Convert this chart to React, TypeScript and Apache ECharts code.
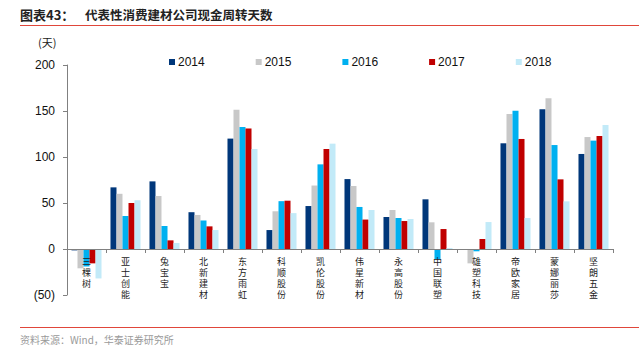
import React, { useEffect, useRef } from "react";
import * as echarts from "echarts";

const categories = ["三棵树", "亚士创能", "兔宝宝", "北新建材", "东方雨虹", "科顺股份", "凯伦股份", "伟星新材", "永高股份", "中国联塑", "雄塑科技", "帝欧家居", "蒙娜丽莎", "坚朗五金"];
const years = ["2014", "2015", "2016", "2017", "2018"];
const v2014 = [-1.5, 67, 73.5, 40, 120, 20.6, 46.7, 76, 34.8, 54, 0, 114.9, 151.8, 103.3];
const v2015 = [-21, 60, 57.6, 37, 151.4, 41, 69, 68.5, 42.4, 29, -15.6, 146.7, 163.8, 121.7];
const v2016 = [-19, 36, 25, 31, 132.6, 52, 92, 45.7, 33.7, -11, -2.5, 150.4, 113, 117.8];
const v2017 = [-15.6, 50, 9.4, 24.6, 131, 52.5, 108.7, 32, 30.4, 21.7, 10.9, 119.6, 75.7, 122.8];
const v2018 = [-32, 53, 6.5, 20.6, 108.7, 39, 114.5, 42.4, 32.6, 1, 29.3, 33.7, 51.8, 134.8];
const seriesValues = [v2014, v2015, v2016, v2017, v2018];
const colors = ["#00377A", "#C8C8C8", "#00B0F0", "#C00000", "#C2EAF8"];
const yTicks = { min: -50, max: 200, interval: 50 };

export default function App() {
  const ref = useRef<HTMLDivElement>(null);
  useEffect(() => {
    document.body.style.margin = "0";
    const chart = echarts.init(ref.current!, undefined, { renderer: "svg" });
    const gridTop = 65;
    const gridBottom = 57;
    const plotH = 352 - gridTop - gridBottom;
    // pixel distance from grid bottom (min) up to the zero line
    const zeroOffset = (plotH * (0 - yTicks.min)) / (yTicks.max - yTicks.min);
    chart.setOption({
      animation: false,
      backgroundColor: "#fff",
      textStyle: { fontFamily: "Liberation Sans, Arial, sans-serif" },
      graphic: [
        { type: "text", left: 20, top: 8, style: { text: "图表43：", font: "bold 13px 'Noto Sans CJK SC'", fill: "#222" } },
        { type: "text", left: 85, top: 8, style: { text: "代表性消费建材公司现金周转天数", font: "bold 12.5px 'Noto Sans CJK SC'", fill: "#222" } },
        { type: "rect", shape: { x: 20, y: 25, width: 619, height: 1 }, style: { fill: "#E0463A" } },
        { type: "text", left: 38, top: 36, style: { text: "(天)", font: "11px 'Noto Sans CJK SC'", fill: "#222" } },
        { type: "rect", shape: { x: 20, y: 327, width: 619, height: 1 }, style: { fill: "#E0463A" } },
        { type: "text", left: 20, top: 334, style: { text: "资料来源：Wind，华泰证券研究所", font: "10px 'Noto Sans CJK SC'", fill: "#9a9a9a" } },
      ],
      legend: {
        top: 51,
        left: 164,
        itemWidth: 6,
        itemHeight: 6,
        itemGap: 51,
        icon: "rect",
        textStyle: { fontSize: 12, color: "#111", padding: [0, 0, 0, -2] },
        data: years,
      },
      grid: { left: 67, right: 26, top: gridTop, bottom: gridBottom },
      xAxis: {
        type: "category",
        data: categories,
        offset: -zeroOffset,
        z: 10,
        axisLine: { onZero: false, lineStyle: { color: "#808080" } },
        axisTick: { show: true, length: 4, lineStyle: { color: "#808080" } },
        axisLabel: {
          interval: 0,
          margin: 7,
          fontSize: 9,
          lineHeight: 11,
          color: "#222",
          fontFamily: "Noto Sans CJK SC",
          formatter: (v: string) => v.split("").join("\n"),
        },
      },
      yAxis: {
        type: "value",
        min: yTicks.min,
        max: yTicks.max,
        interval: yTicks.interval,
        axisLine: { show: true, lineStyle: { color: "#808080" } },
        axisTick: { show: true, length: 4, lineStyle: { color: "#808080" } },
        splitLine: { show: false },
        axisLabel: {
          margin: 12,
          fontSize: 12,
          color: "#111",
          formatter: (v: number) => (v < 0 ? `(${Math.abs(v)})` : `${v}`),
        },
      },
      series: years.map((y, i) => ({
        name: y,
        type: "bar",
        data: seriesValues[i],
        barGap: "0%",
        barCategoryGap: "23%",
        itemStyle: { color: colors[i] },
      })),
    });
    return () => chart.dispose();
  }, []);
  return <div ref={ref} style={{ width: 639, height: 352, position: "absolute", left: 0, top: 0 }} />;
}
